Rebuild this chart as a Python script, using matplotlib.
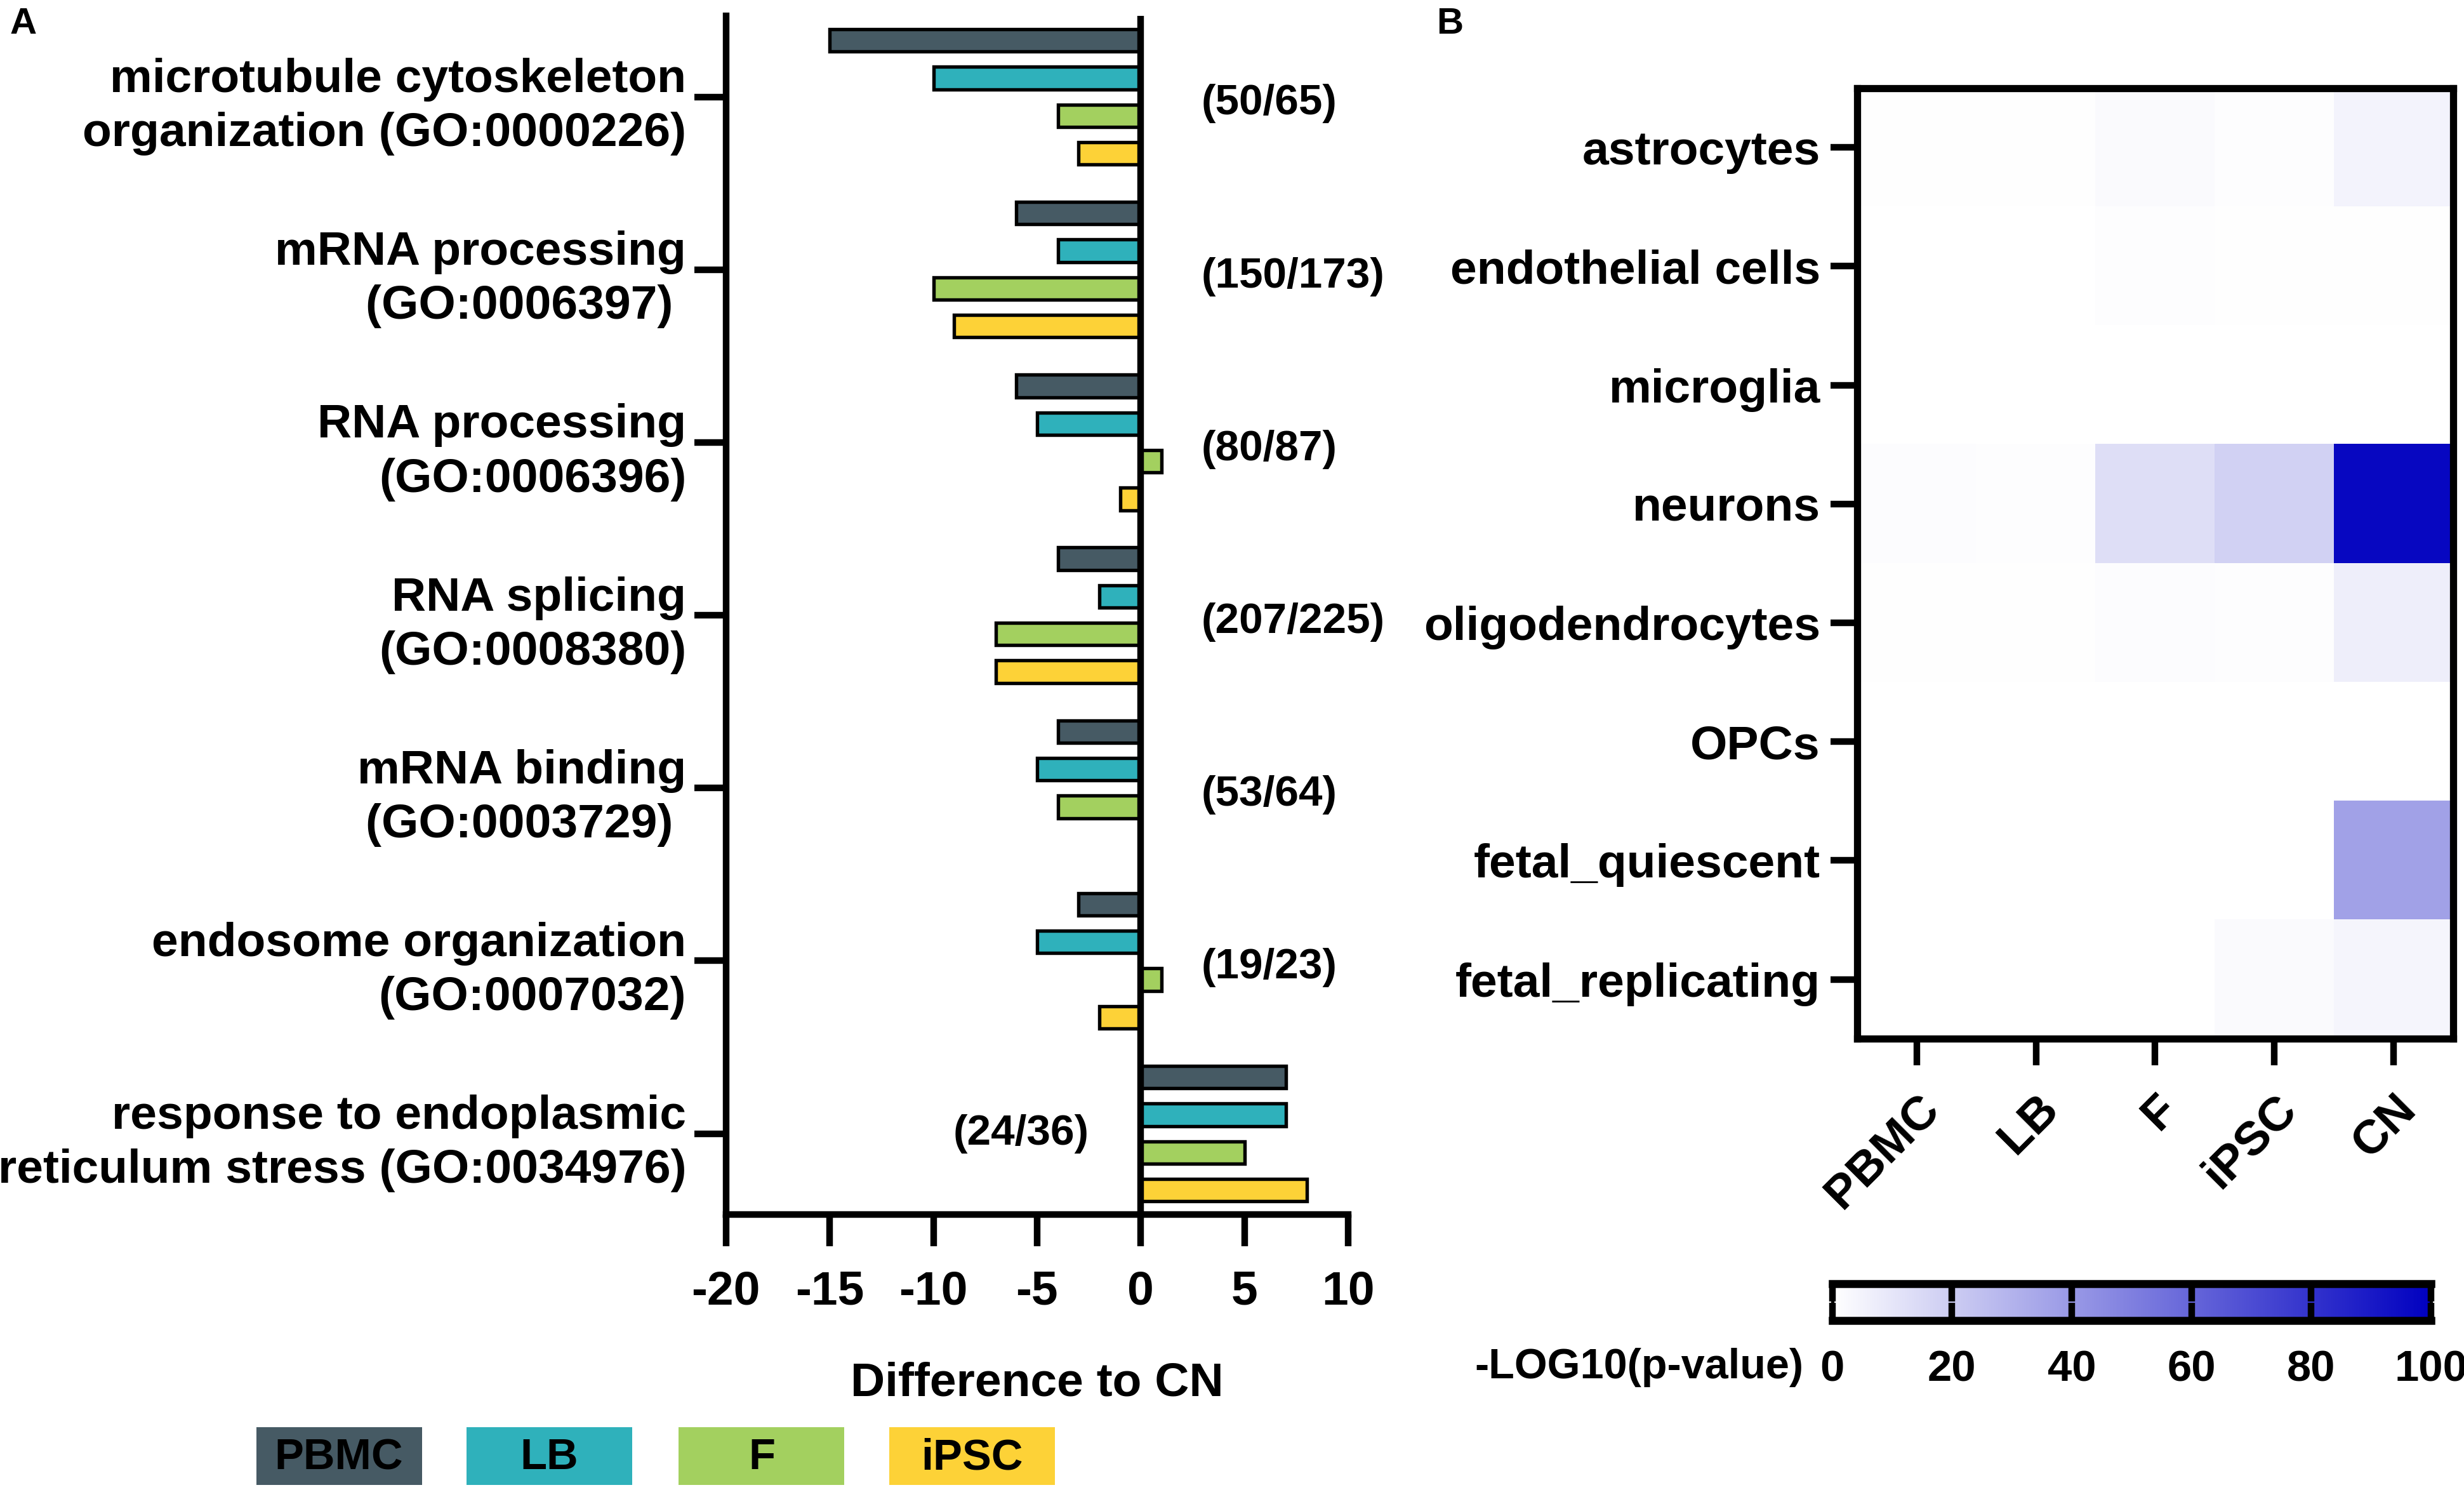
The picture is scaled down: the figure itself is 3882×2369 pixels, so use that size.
import matplotlib

matplotlib.use("Agg")
import matplotlib.pyplot as plt  # noqa: E402
import numpy as np  # noqa: E402
from matplotlib.colors import LinearSegmentedColormap  # noqa: E402

plt.rcParams["font.family"] = ["Liberation Sans", "DejaVu Sans"]
plt.rcParams["font.weight"] = "bold"

# ---- panel A data: difference to CN per GO term ----
go_terms = [
    "microtubule cytoskeleton\norganization (GO:0000226)",
    "mRNA processing\n(GO:0006397) ",
    "RNA processing\n(GO:0006396)",
    "RNA splicing\n(GO:0008380)",
    "mRNA binding\n(GO:0003729) ",
    "endosome organization\n(GO:0007032)",
    "response to endoplasmic\nreticulum stress (GO:0034976)",
]
counts = ["(50/65)", "(150/173)", "(80/87)", "(207/225)", "(53/64)", "(19/23)", "(24/36)"]
series = ["PBMC", "LB", "F", "iPSC"]
pbmc = [-15, -6, -6, -4, -4, -3, 7]
lb = [-10, -4, -5, -2, -5, -5, 7]
f_vals = [-4, -10, 1, -7, -4, 1, 5]
ipsc = [-3, -9, -1, -7, 0, -2, 8]
colors = ["#465a64", "#2fb1bb", "#a3d05f", "#fdd237"]

# ---- panel B data: -log10(p) of cell-type enrichment ----
cell_types = ["astrocytes", "endothelial cells", "microglia", "neurons",
              "oligodendrocytes", "OPCs", "fetal_quiescent", "fetal_replicating"]
groups = ["PBMC", "LB", "F", "iPSC", "CN"]
astro = [0.5, 0.5, 2, 0.8, 5]
endo = [0.3, 0.3, 0.8, 0.5, 0.5]
micro = [0.3, 0.3, 0.3, 0.3, 0.3]
neuro = [1.5, 1, 13, 18, 97]
oligo = [0.5, 0.5, 1.5, 1, 7]
opcs = [0.3, 0.3, 0.3, 0.3, 0.3]
fetal_q = [0.3, 0.3, 0.3, 0.3, 37]
fetal_r = [0.3, 0.3, 0.3, 2, 4]
cbar_ticks = [0, 20, 40, 60, 80, 100]

FS = 18
fig = plt.figure(figsize=(3882 / 300, 2369 / 300), dpi=300)

# ---------------- panel A ----------------
ax = fig.add_axes([0.2946, 0.1923, 0.2526, 0.7973])
pos = np.arange(len(go_terms))
offsets = [-0.327, -0.109, 0.109, 0.327]
for vals, off, col, name in zip([pbmc, lb, f_vals, ipsc], offsets, colors, series):
    ax.barh(pos + off, vals, height=0.13, color=col, edgecolor="black", linewidth=1.3, label=name, zorder=2)
ax.axvline(0, color="black", lw=2.5, zorder=3)
ax.set_xlim(-20, 10)
ax.set_ylim(len(go_terms) - 0.53, -0.47)
ax.set_xticks([-20, -15, -10, -5, 0, 5, 10])
ax.set_xticklabels(["-20", "-15", "-10", "-5", "0", "5", "10"])
ax.set_yticks(pos)
ax.set_yticklabels(go_terms, fontsize=FS, fontweight="bold", linespacing=1.3, ha="right")
ax.tick_params(axis="y", length=12, width=2.5, pad=3)
ax.tick_params(axis="x", length=12, width=2.5, pad=9, labelsize=FS)
for s in ["top", "right"]:
    ax.spines[s].set_visible(False)
for s in ["left", "bottom"]:
    ax.spines[s].set_linewidth(2.5)
ax.set_xlabel("Difference to CN", fontsize=FS, fontweight="bold", labelpad=18)
for i, c in enumerate(counts):
    if i == len(counts) - 1:
        ax.text(-2.5, i, c, ha="right", va="center", fontsize=16.2, fontweight="bold")
    else:
        ax.text(2.9, i + 0.04, c, ha="left", va="center", fontsize=16.2, fontweight="bold")

# legend boxes under panel A
leg_x = [0.1040, 0.1894, 0.2755, 0.3610]
for x0, col, name in zip(leg_x, colors, series):
    lax = fig.add_axes([x0, 0.0125, 0.0672, 0.0387])
    lax.set_facecolor(col)
    lax.set_xticks([])
    lax.set_yticks([])
    for s in lax.spines.values():
        s.set_visible(False)
    lax.text(0.5, 0.47, name, ha="center", va="center", fontsize=16.5, fontweight="bold",
             transform=lax.transAxes)

# ---------------- panel B ----------------
heat = np.array([astro, endo, micro, neuro, oligo, opcs, fetal_q, fetal_r])
cmap = LinearSegmentedColormap.from_list("wb", ["#ffffff", "#0000c0"])
hx = fig.add_axes([0.7538, 0.3093, 0.2417, 0.6322])
im = hx.imshow(heat, cmap=cmap, vmin=0, vmax=100, aspect="auto", interpolation="nearest")
hx.set_yticks(np.arange(len(cell_types)))
hx.set_yticklabels(cell_types, fontsize=FS, fontweight="bold")
hx.set_xticks(np.arange(len(groups)))
hx.set_xticklabels(groups, fontsize=FS, fontweight="bold", rotation=45, ha="right",
                   rotation_mode="anchor")
hx.tick_params(axis="both", length=10, width=2.5, pad=4)
hx.tick_params(axis="x", pad=8)
for s in hx.spines.values():
    s.set_linewidth(2.7)

cax = fig.add_axes([0.7436, 0.1221, 0.2430, 0.0245])
cb = fig.colorbar(im, cax=cax, orientation="horizontal", ticks=cbar_ticks)
cb.outline.set_linewidth(1.2)
cax.axhline(0, color="black", lw=3, clip_on=False)
cax.axhline(1, color="black", lw=3, clip_on=False)
cax.tick_params(axis="x", direction="in", top=True, bottom=True, length=6.7, width=2.5,
                pad=11, labelsize=16.5)
for t in cax.get_xticklabels():
    t.set_fontweight("bold")
fig.text(0.732, 0.0909, "-LOG10(p-value)", ha="right", va="center", fontsize=16, fontweight="bold")

fig.text(0.004, 0.984, "A", fontsize=14, fontweight="bold", va="center")
fig.text(0.583, 0.984, "B", fontsize=14, fontweight="bold", va="center")

fig.savefig("out.png", dpi=300)
